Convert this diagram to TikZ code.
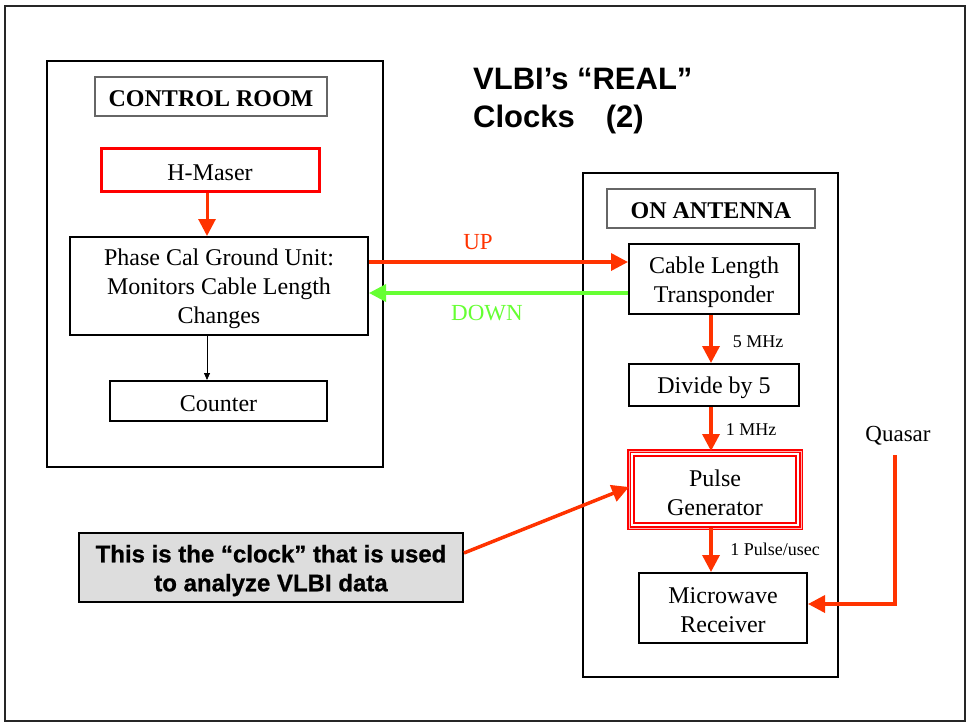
\documentclass[tikz,border=0pt]{standalone}
\usepackage{fontspec}
\setmainfont{Liberation Serif}
\newfontfamily\titlefont{Liberation Sans}
\newfontfamily\heavyfont[FakeBold=0.9]{Liberation Sans}
\usetikzlibrary{arrows.meta}
\definecolor{arrred}{HTML}{FF3300}
\definecolor{arrgreen}{HTML}{66FF33}
\definecolor{boxgray}{HTML}{DDDDDD}
\newcommand{\toprule}[1][22.5pt]{\rule{0pt}{#1}}
\begin{document}
\begin{tikzpicture}[x=1pt,y=-1pt,
  box/.style={draw=black, line width=2pt, inner sep=0pt, align=center, font=\fontsize{24}{29}\selectfont},
  lbl/.style={draw=black!60, line width=1.2pt, inner sep=0pt, font=\fontsize{24}{29}\selectfont\bfseries},
  room/.style={draw=black, line width=2.5pt, inner sep=0pt},
  bigarr/.style={draw=arrred, line width=3.5pt, -{Triangle[length=17pt,width=17pt]}},
  small/.style={font=\fontsize{18}{22}\selectfont, inner sep=0pt},
  mid/.style={font=\fontsize{23}{28}\selectfont, inner sep=0pt}
]
\useasboundingbox (0,0) rectangle (969,723);
\node[draw=black!85, line width=2pt, minimum width=960pt, minimum height=715pt, inner sep=0pt] (frame) at (485,363.5) {};

% control room
\node[room, minimum width=336pt, minimum height=406pt] (ctrl) at (215,264) {};
\node[lbl, minimum width=232pt, minimum height=39pt] (ctrllabel) at (211,96.5) {\toprule[21pt]CONTROL ROOM};
\node[box, draw=red, line width=3pt, minimum width=218pt, minimum height=43pt] (maser) at (210,169.5) {\toprule[22pt]H-Maser};
\node[box, minimum width=298pt, minimum height=98pt] (phase) at (219,286) {\toprule Phase Cal Ground Unit:\\Monitors Cable Length\\Changes};
\node[box, minimum width=217pt, minimum height=40pt] (counter) at (218.5,401) {\toprule[22pt]Counter};

% title
\node[anchor=north west, align=left, inner sep=0pt, font=\titlefont\bfseries\fontsize{31}{38}\selectfont] (title) at (473,67.5) {VLBI’s “REAL”\\Clocks\ \ \ \,(2)};

% antenna
\node[room, minimum width=255pt, minimum height=504pt] (ant) at (710.5,425) {};
\node[lbl, minimum width=208pt, minimum height=39pt] (antlabel) at (711,208.5) {\toprule[21pt]ON ANTENNA};
\node[box, minimum width=170pt, minimum height=70pt] (cable) at (714,279) {\toprule[23pt]Cable Length\\Transponder};
\node[box, minimum width=170pt, minimum height=42pt] (divide) at (714,385) {\toprule[22pt]Divide by 5};
\node[box, draw=red, line width=4pt, outer sep=0pt, minimum width=172pt, minimum height=77pt] (pulse) at (715,489.5) {\toprule Pulse\\Generator};
\draw[red!30, line width=1pt] (pulse.north west) rectangle (pulse.south east);
\draw[red, line width=1.4pt] ([xshift=5pt,yshift=-5pt]pulse.north west) rectangle ([xshift=-5pt,yshift=5pt]pulse.south east);
\node[box, minimum width=168pt, minimum height=70pt] (micro) at (723,608) {\toprule[21pt]Microwave\\Receiver};

% quasar
\node[mid] (quasar) at (898,435.5) {Quasar};
\coordinate (qtop) at (895,455);

% gray note
\node[draw=black, line width=2pt, fill=boxgray, minimum width=384pt, minimum height=69pt, inner sep=0pt, align=center, font=\heavyfont\bfseries\fontsize{24}{29}\selectfont] (gray) at (271,567.5) {\toprule[23.5pt]This is the “clock” that is used\\to analyze VLBI data};

% connectors
\draw[bigarr, line width=3pt] ([xshift=-3pt]maser.south) -- ([xshift=-3pt]maser.south |- phase.north);
\draw[line width=0.8pt, -{Triangle[length=7pt,width=6pt]}] ([xshift=-12pt]phase.south) -- ([xshift=-12pt]phase.south |- counter.north);
\draw[bigarr] ([yshift=24pt]phase.east) -- ([yshift=24pt]phase.east -| cable.west);
\draw[bigarr, draw=arrgreen] ([yshift=-14pt]cable.west) -- ([yshift=-14pt]cable.west -| phase.east);
\node[mid, text=arrred] (uplbl) at (478,242) {UP};
\node[mid, text=arrgreen] (downlbl) at (487,313) {DOWN};

\draw[bigarr] ([xshift=-3pt]cable.south) -- ([xshift=-3pt]cable.south |- divide.north);
\node[small] (l5) at (758,342) {5 MHz};
\draw[bigarr] ([xshift=-3pt]divide.south) -- ([xshift=-3pt]divide.south |- pulse.north);
\node[small] (l1) at (751,430) {1 MHz};
\draw[bigarr] ([xshift=-4pt]pulse.south) -- ([xshift=-4pt]pulse.south |- micro.north);
\node[small] (lp) at (775,549) {1 Pulse/usec};

\draw[bigarr] (qtop) |- ([yshift=4pt]micro.east);
\draw[bigarr] ([yshift=14.5pt]gray.east) -- ([yshift=2.5pt]pulse.west);
\end{tikzpicture}
\end{document}
